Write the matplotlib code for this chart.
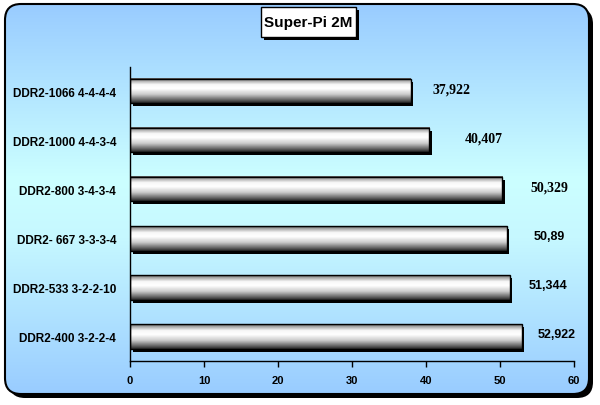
import numpy as np
import matplotlib
matplotlib.use("Agg")
import matplotlib.pyplot as plt
from matplotlib.patches import FancyBboxPatch, Rectangle
from matplotlib.colors import LinearSegmentedColormap
from matplotlib.transforms import offset_copy

# data
categories = ["DDR2-1066 4-4-4-4", "DDR2-1000 4-4-3-4", "DDR2-800 3-4-3-4",
              "DDR2- 667 3-3-3-4", "DDR2-533 3-2-2-10", "DDR2-400 3-2-2-4"]
values = [37.922, 40.407, 50.329, 50.89, 51.344, 52.922]
value_labels = ["37,922", "40,407", "50,329", "50,89", "51,344", "52,922"]
x_ticks = [0, 10, 20, 30, 40, 50, 60]
title = "Super-Pi 2M"

# labels were placed by hand in the original, so keep their pixel offsets
label_dx = [22, 36, 28, 27, 19, 16]
label_serif = [True, True, True, False, False, False]

SANS = "Liberation Sans"
SERIF = "Liberation Serif"

W, H = 600, 406
fig = plt.figure(figsize=(6, 4.06), dpi=100)

# background panel (pixel coordinates, y down)
bg = fig.add_axes([0, 0, 1, 1])
bg.axis("off")
box_style = "round,pad=0,rounding_size=16"
shadow = FancyBboxPatch((9, 9), 584, 390, boxstyle=box_style, fc="black", ec="none", zorder=0)
bg.add_patch(shadow)
frame = FancyBboxPatch((5, 5), 584, 390, boxstyle=box_style, fc="none", ec="black", lw=1.5, zorder=3)
bg.add_patch(frame)
bg_cmap = LinearSegmentedColormap.from_list("bgblue", [(0, "#99ccff"), (0.45, "#ccffff"), (0.6, "#c6f8ff"), (1, "#99ccff")])
img = bg.imshow(np.linspace(0, 1, 256).reshape(-1, 1), cmap=bg_cmap, aspect="auto",
                extent=(5, 589, 395, 5), origin="upper", zorder=1)
img.set_clip_path(frame)

# title box
bg.add_patch(Rectangle((264, 11), 95, 30, fc="black", ec="none", zorder=4))
bg.add_patch(Rectangle((261, 8), 95, 30, fc="white", ec="black", lw=1, zorder=5))
bg.text(308.5, 23, title, ha="center", va="center", fontsize=11, fontweight="bold",
        family=SANS, zorder=6)
bg.set_xlim(0, W)
bg.set_ylim(H, 0)

# chart area
ax = fig.add_axes([130 / W, 1 - 362 / H, 444 / W, (362 - 67.5) / H])
ax.set_facecolor("none")

bar_h = 0.5
bar_cmap = LinearSegmentedColormap.from_list("cyl", [
    (0.0, (0.30, 0.30, 0.30)), (0.08, (0.62, 0.62, 0.62)), (0.25, (0.97, 0.97, 0.97)),
    (0.42, (1.0, 1.0, 1.0)), (0.65, (0.80, 0.80, 0.80)), (0.85, (0.45, 0.45, 0.45)),
    (1.0, (0.15, 0.15, 0.15))])
grad = np.linspace(0, 1, 64).reshape(-1, 1)
shadow_tr = offset_copy(ax.transData, fig=fig, x=2.5, y=-3, units="dots")

for i, (v, lab) in enumerate(zip(values, value_labels)):
    ax.add_patch(Rectangle((0, i - bar_h / 2), v, bar_h, fc="black", ec="none",
                           transform=shadow_tr, zorder=1))
    ax.imshow(grad, cmap=bar_cmap, aspect="auto", origin="upper",
              extent=(0, v, i + bar_h / 2, i - bar_h / 2), zorder=2)
    ax.add_patch(Rectangle((0, i - bar_h / 2), v, bar_h, fc="none", ec="black", lw=1, zorder=3))
    serif = label_serif[i]
    ax.annotate(lab, xy=(v, i), xytext=(label_dx[i], 2), textcoords="offset pixels",
                ha="left", va="center", fontsize=10 if serif else 9, fontweight="bold",
                family=SERIF if serif else SANS)

ax.set_xlim(0, 60)
ax.set_ylim(len(categories) - 0.5, -0.5)
ax.set_xticks(x_ticks)
ax.set_xticklabels([str(t) for t in x_ticks], fontsize=8, fontweight="bold", family=SANS)
ax.set_yticks(range(len(categories)))
ax.set_yticklabels(categories, fontsize=8.5, fontweight="bold", family=SANS)
ax.tick_params(axis="y", length=0, pad=10)
ax.tick_params(axis="x", direction="out", length=4, width=1, pad=6)
for side in ("top", "right"):
    ax.spines[side].set_visible(False)
for side in ("left", "bottom"):
    ax.spines[side].set_linewidth(1)

fig.savefig("out.png", dpi=100)
